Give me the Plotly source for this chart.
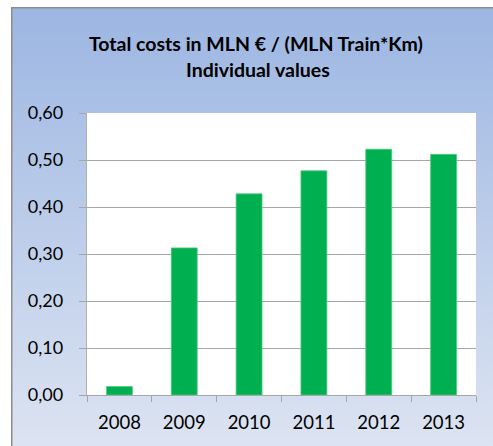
import base64
import plotly.graph_objects as go

# ---- data ----
years = ["2008", "2009", "2010", "2011", "2012", "2013"]
cost_values = [0.018, 0.313, 0.428, 0.477, 0.523, 0.512]
y_tick_vals = [0.0, 0.1, 0.2, 0.3, 0.4, 0.5, 0.6]
title_line1 = "Total costs in MLN € / (MLN Train*Km)"
title_line2 = "Individual values"

# ---- geometry ----
W, H = 493, 446
ML, MR, MT, MB = 87, 17, 113, 51
PW, PH = W - ML - MR, H - MT - MB

def px_x(px):
    return (px - ML) / PW

def px_y(py):
    return (H - MB - py) / PH

# gradient box as an svg image
bx0, by0, bx1, by1 = 11, 7, 493, 446
bw, bh = bx1 - bx0, by1 - by0
svg = f'''<svg xmlns="http://www.w3.org/2000/svg" width="{bw}" height="{bh}" viewBox="0 0 {bw} {bh}" preserveAspectRatio="none">
<defs><linearGradient id="g" x1="0" y1="0" x2="0" y2="1">
<stop offset="0" stop-color="#9CB6E2"/><stop offset="1" stop-color="#DDE4F2"/>
</linearGradient></defs>
<rect x="0.75" y="0.75" width="{bw+2}" height="{bh+2}" fill="url(#g)" stroke="#8C8C8C" stroke-width="1.5"/>
</svg>'''
src = "data:image/svg+xml;base64," + base64.b64encode(svg.encode()).decode()

fig = go.Figure()
fig.add_trace(go.Bar(
    x=years, y=cost_values,
    marker=dict(color="#00B050", line=dict(color="#4CCB80", width=0.8)),
    width=0.4,
))

fig.add_layout_image(dict(
    source=src, xref="paper", yref="paper",
    x=px_x(bx0), y=px_y(by0), sizex=bw / PW, sizey=bh / PH,
    xanchor="left", yanchor="top", sizing="stretch", layer="below",
))
fig.add_shape(type="rect", xref="paper", yref="paper", x0=0, x1=1, y0=0, y1=1,
              fillcolor="white", line=dict(width=0), layer="below")

font_family = "Lato, 'Open Sans', sans-serif"
fig.add_annotation(text=f"<b>{title_line1}</b>", xref="paper", yref="paper",
                   x=px_x(256), y=px_y(44), xanchor="center", yanchor="middle",
                   showarrow=False, font=dict(family=font_family, size=19.5, color="#000000"))
fig.add_annotation(text=f"<b>{title_line2}</b>", xref="paper", yref="paper",
                   x=px_x(258), y=px_y(69), xanchor="center", yanchor="middle",
                   showarrow=False, font=dict(family=font_family, size=19.5, color="#000000"))

fig.update_layout(
    width=W, height=H,
    margin=dict(l=ML, r=MR, t=MT, b=MB, pad=0, autoexpand=False),
    paper_bgcolor="white", plot_bgcolor="rgba(0,0,0,0)",
    separators=",.",
    showlegend=False,
    font=dict(family=font_family, size=18, color="#000000"),
)
fig.update_xaxes(
    type="category", automargin=False, showgrid=False, showline=True, linecolor="#A6A6A6", linewidth=1.3,
    ticks="outside", tickson="boundaries", ticklen=6, tickcolor="#A6A6A6", tickwidth=1.3,
    tickfont=dict(size=18.5), ticklabelstandoff=11,
)
fig.update_yaxes(
    range=[0, 0.6], tickvals=y_tick_vals, tickformat=".2f", automargin=False,
    showgrid=True, gridcolor="#A6A6A6", gridwidth=1.3,
    showline=True, linecolor="#B0B0B0", linewidth=1.3,
    ticks="outside", ticklen=7, tickcolor="#A6A6A6", tickwidth=1.3,
    tickfont=dict(size=18), ticklabelstandoff=12, zeroline=False,
)

fig.write_html("out.html", config={"displayModeBar": False},
               post_script="document.body.style.margin='0';document.body.style.overflow='hidden';")
